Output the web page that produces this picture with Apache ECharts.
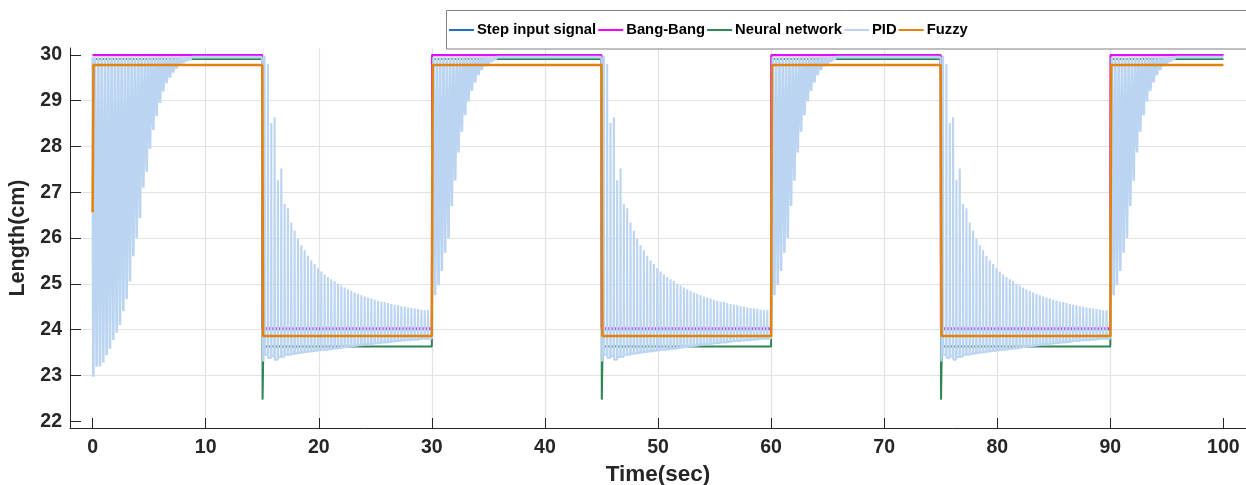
<!DOCTYPE html>
<html>
<head>
<meta charset="utf-8">
<script src="https://cdn.jsdelivr.net/npm/echarts@6/dist/echarts.min.js"></script>
<style>html,body{margin:0;padding:0;background:#fff}#c{width:1246px;height:485px}</style>
</head>
<body>
<div id="c"></div>
<script>
// ---------- data ----------
const xTicks = [0, 10, 20, 30, 40, 50, 60, 70, 80, 90, 100];
const yTicks = [22, 23, 24, 25, 26, 27, 28, 29, 30];
const seriesNames = ['Step input signal', 'Bang-Bang', 'Neural network', 'PID', 'Fuzzy'];

// switching instants of the square reference (high, low, high, ...)
const switchTimes = [0, 15, 30, 45, 60, 75, 90, 100];
const stepLevels = [30, 24];           // [high, low]
const bangLevels = [29.99, 24.03];
const nnLevels = [29.91, 23.63];
const nnDip = 22.47;                   // undershoot at each falling edge
const fuzzyLevels = [29.78, 23.86];
const fuzzyStart = 26.56;

// PID: spike period and envelopes
const pidPeriod = 0.295;
const pidSteadyHigh = 29.95;
const pidRiseStartFirst = 0.06;
const pidRiseTroughsFirst = [22.97, 23.19, 23.20, 23.28, 23.44, 23.58, 23.77, 23.93, 24.10, 24.40,
  24.67, 25.05, 25.60, 26.00, 26.43, 27.10, 27.45, 27.95, 28.36, 28.66,
  28.95, 29.20, 29.38, 29.50, 29.61, 29.70, 29.77, 29.82, 29.86, 29.89, 29.91, 29.93];
const pidRiseStart = 0.0;               // offset after a rising edge (30, 60, 90)
const pidRiseTroughs = [24.50, 24.75, 24.97, 25.28, 25.68, 26.00, 26.70, 27.25, 27.87, 28.32,
  28.68, 28.98, 29.21, 29.40, 29.56, 29.67, 29.75, 29.80, 29.85, 29.89, 29.91];
const pidFallStart = 0.21;              // offset after a falling edge (15, 45, 75)
const pidFallPeaks = [29.98, 29.80, 28.51, 28.64, 27.26, 27.52, 26.74, 26.65, 26.34, 26.16,
  25.98, 25.84, 25.73, 25.61, 25.51, 25.43, 25.34, 25.27, 25.20, 25.15,
  25.10, 25.06, 25.00, 24.96, 24.92, 24.88, 24.85, 24.81, 24.78, 24.75,
  24.72, 24.70, 24.68, 24.65, 24.63, 24.61, 24.60, 24.58, 24.56, 24.54,
  24.53, 24.51, 24.50, 24.48, 24.47, 24.46, 24.45, 24.43, 24.42, 24.42];
const pidFallTroughs = [23.30, 23.45, 23.38, 23.42, 23.34, 23.40, 23.41, 23.45, 23.45, 23.47,
  23.48, 23.49, 23.50, 23.51, 23.52, 23.53, 23.54, 23.55, 23.56, 23.56,
  23.57, 23.58, 23.59, 23.60, 23.61, 23.62, 23.63, 23.64, 23.65, 23.66,
  23.67, 23.68, 23.68, 23.69, 23.70, 23.71, 23.72, 23.72, 23.73, 23.74,
  23.75, 23.75, 23.76, 23.77, 23.77, 23.78, 23.78, 23.79, 23.80, 23.80, 23.80];

const colors = ['#1f6fbf', '#ff00ff', '#2e8656', '#bad4f1', '#e3820d'];

// ---------- build series ----------
function squareWave(levels, edge, dipValue, startValue) {
  const d = [];
  for (let k = 0; k < switchTimes.length - 1; k++) {
    const t0 = switchTimes[k], t1 = switchTimes[k + 1];
    const v = levels[k % 2];
    if (k === 0 && startValue !== undefined) { d.push([t0, startValue]); d.push([t0 + edge, v]); }
    else if (k % 2 === 1 && dipValue !== undefined) { d.push([t0 + edge * 0.3, dipValue]); d.push([t0 + edge, v]); }
    else d.push([t0 + (k === 0 ? 0 : edge), v]);
    d.push([t1, v]);
  }
  return d;
}

const spikeHalfWidth = 0.025;
// PID rising (set-point high) parts
function pidRiseData() {
  const d = [];
  for (let k = 0; k < switchTimes.length - 1; k += 2) {
    const t0 = switchTimes[k], t1 = switchTimes[k + 1];
    const first = k === 0;
    const troughs = first ? pidRiseTroughsFirst : pidRiseTroughs;
    const s = t0 + (first ? pidRiseStartFirst : pidRiseStart);
    if (!first) d.push(null);
    d.push([t0, first ? pidSteadyHigh : pidFallTroughs[pidFallTroughs.length - 1]]);
    troughs.forEach((v, i) => {
      d.push([s + i * pidPeriod, v]);
      d.push([s + i * pidPeriod + pidPeriod / 2, pidSteadyHigh]);
    });
    d.push([t1, pidSteadyHigh]);
  }
  return d;
}
// PID falling (set-point low) parts
function pidFallData() {
  const d = [];
  for (let k = 1; k < switchTimes.length - 1; k += 2) {
    const t0 = switchTimes[k], t1 = switchTimes[k + 1];
    const s = t0 + pidFallStart;
    if (d.length) d.push(null);
    d.push([t0, pidSteadyHigh]);
    d.push([t0 + 0.06, pidFallTroughs[0]]);
    pidFallPeaks.forEach((v, i) => {
      const tp = s + i * pidPeriod;
      d.push([tp - spikeHalfWidth, pidFallTroughs[i]]);
      d.push([tp, v]);
      d.push([tp + spikeHalfWidth, pidFallTroughs[i + 1]]);
    });
    d.push([t1, pidFallTroughs[pidFallTroughs.length - 1]]);
  }
  return d;
}

const lineSeries = (name, data, color, width) => ({
  name, type: 'line', data, symbol: 'none', showSymbol: false, animation: false,
  connectNulls: false, lineStyle: { color, width }, itemStyle: { color }, silent: true
});

const FONT = "'Liberation Sans', Arial, sans-serif";
const lineIcon = 'path://M0,0 L25,0 L25,2 L0,2 Z';
const chart = echarts.init(document.getElementById('c'), null, { renderer: 'canvas' });
chart.setOption({
  animation: false,
  backgroundColor: '#ffffff',
  grid: { left: 70, right: 0, top: 48, bottom: 57, containLabel: false, outerBoundsMode: 'none' },
  graphic: [{
    type: 'rect', z: 3,
    shape: { x: 446.5, y: 10.5, width: 850, height: 38.5 },
    style: { fill: '#ffffff', stroke: '#808080', lineWidth: 1 }
  }],
  legend: {
    data: seriesNames.map(n => ({ name: n, icon: lineIcon })),
    left: 449, top: 20, padding: 0, z: 5,
    itemWidth: 25, itemHeight: 20, itemGap: 2,
    textStyle: { fontFamily: FONT, fontWeight: 'bold', fontSize: 14.8, color: '#000000', lineHeight: 20, padding: [0, 0, 0, -2] }
  },
  xAxis: {
    type: 'value', min: -2, max: 102,
    name: 'Time(sec)', nameLocation: 'middle', nameGap: 35,
    nameTextStyle: { fontFamily: FONT, fontWeight: 'bold', fontSize: 22.5, color: '#262626' },
    axisLine: { onZero: false, lineStyle: { color: '#262626', width: 1 } },
    axisTick: { inside: true, length: 10, customValues: xTicks, lineStyle: { color: '#262626', width: 1 } },
    axisLabel: { customValues: xTicks, margin: 10, fontFamily: FONT, fontWeight: 'bold', fontSize: 19.5, color: '#262626' },
    splitLine: { show: true, showMinLine: false, showMaxLine: false, lineStyle: { color: '#e3e3e3', width: 1.2 } }
  },
  yAxis: {
    type: 'value', min: 21.85, max: 30.15,
    name: 'Length(cm)', nameLocation: 'middle', nameGap: 36, nameRotate: 90,
    nameTextStyle: { fontFamily: FONT, fontWeight: 'bold', fontSize: 21.5, color: '#262626' },
    axisLine: { show: true, onZero: false, lineStyle: { color: '#262626', width: 1 } },
    axisTick: { show: true, inside: true, length: 11, customValues: yTicks, lineStyle: { color: '#262626', width: 1 } },
    axisLabel: { customValues: yTicks, margin: 8, fontFamily: FONT, fontWeight: 'bold', fontSize: 19.5, color: '#262626' },
    splitLine: { show: true, showMinLine: false, showMaxLine: false, lineStyle: { color: '#e3e3e3', width: 1.2 } }
  },
  series: [
    lineSeries(seriesNames[0], squareWave(stepLevels, 0.02), colors[0], 1.5),
    lineSeries(seriesNames[1], squareWave(bangLevels, 0.02), colors[1], 2),
    lineSeries(seriesNames[2], squareWave(nnLevels, 0.1, nnDip), colors[2], 2),
    lineSeries(seriesNames[3], pidRiseData(), colors[3], 2.6),
    lineSeries(seriesNames[3], pidFallData(), colors[3], 2.1),
    lineSeries(seriesNames[4], squareWave(fuzzyLevels, 0.08, undefined, fuzzyStart), colors[4], 2.5)
  ]
});
</script>
</body>
</html>
